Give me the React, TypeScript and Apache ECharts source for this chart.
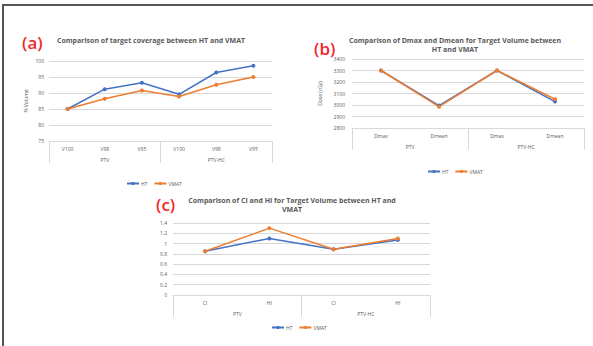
import React, { useEffect, useRef } from "react";
import * as echarts from "echarts";

// Panel (a)
const catsA = ["V100", "V98", "V95", "V100", "V98", "V95"];
const groupsA = ["PTV", "PTV-HC"];
const htA = [85.0, 91.2, 93.2, 89.6, 96.4, 98.5];
const vmatA = [85.0, 88.2, 90.8, 88.9, 92.6, 95.0];
const yTicksA = [75, 80, 85, 90, 95, 100];

// Panel (b)
const catsB = ["Dmax", "Dmean", "Dmax", "Dmean"];
const groupsB = ["PTV", "PTV-HC"];
const htB = [3300, 2995, 3300, 3030];
const vmatB = [3300, 2985, 3300, 3050];
const yTicksB = [2800, 2900, 3000, 3100, 3200, 3300, 3400];

// Panel (c)
const catsC = ["CI", "HI", "CI", "HI"];
const groupsC = ["PTV", "PTV-HC"];
const htC = [0.85, 1.1, 0.89, 1.07];
const vmatC = [0.85, 1.3, 0.89, 1.1];
const yTicksC = [0, 0.2, 0.4, 0.6, 0.8, 1, 1.2, 1.4];

const BLUE = "#4472C4";
const ORANGE = "#ED7D31";
const GRID = "#D9D9D9";
const TXT = "#595959";
const FONT = "Open Sans";

export default function App() {
  const ref = useRef<HTMLDivElement>(null);
  useEffect(() => {
    const chart = echarts.init(ref.current!, null, { renderer: "svg" });

    const grids = [
      { left: 49, top: 61, width: 223, height: 80 },
      { left: 352, top: 59, width: 232, height: 69 },
      { left: 173, top: 223, width: 257, height: 72 },
    ];
    const cats = [catsA, catsB, catsC];
    const groups = [groupsA, groupsB, groupsC];
    const ticks = [yTicksA, yTicksB, yTicksC];
    const yNames = ["% Volume", "Dose (cGy)", ""];
    const yNameGaps = [21, 30, 20];
    const yLabelMargins = [5, 7, 6];
    const htData = [htA, htB, htC];
    const vmData = [vmatA, vmatB, vmatC];

    const xAxis: any[] = [];
    const yAxis: any[] = [];
    const series: any[] = [];
    for (let i = 0; i < 3; i++) {
      xAxis.push({
        type: "category",
        gridIndex: i,
        data: cats[i],
        position: "bottom",
        boundaryGap: true,
        axisLine: { show: true, lineStyle: { color: GRID, width: 1 } },
        axisTick: { show: false },
        axisLabel: { fontSize: 5, color: TXT, fontFamily: FONT, margin: 5, interval: 0 },
      });
      xAxis.push({
        type: "category",
        gridIndex: i,
        data: groups[i],
        position: "bottom",
        boundaryGap: true,
        axisLine: { show: false },
        axisTick: { show: true, length: 22, interval: 0, lineStyle: { color: GRID, width: 1 } },
        axisLabel: { fontSize: 5, color: TXT, fontFamily: FONT, margin: 16, interval: 0 },
      });
      const t = ticks[i];
      yAxis.push({
        type: "value",
        gridIndex: i,
        min: t[0],
        max: t[t.length - 1],
        interval: t[1] - t[0],
        name: yNames[i],
        nameLocation: "middle",
        nameGap: yNameGaps[i],
        nameTextStyle: { fontSize: 5, color: TXT, fontFamily: FONT },
        axisLine: { show: false },
        axisTick: { show: false },
        splitLine: { show: true, lineStyle: { color: GRID, width: 1 } },
        axisLabel: {
          fontSize: 5,
          color: TXT,
          fontFamily: FONT,
          margin: yLabelMargins[i],
          formatter: (v: number) => String(Math.round(v * 100) / 100),
        },
      });
      series.push({
        name: "HT",
        type: "line",
        xAxisIndex: 2 * i,
        yAxisIndex: i,
        data: htData[i],
        symbol: "circle",
        symbolSize: 4,
        lineStyle: { color: BLUE, width: 1.5 },
        itemStyle: { color: BLUE },
      });
      series.push({
        name: "VMAT",
        type: "line",
        xAxisIndex: 2 * i,
        yAxisIndex: i,
        data: vmData[i],
        symbol: "circle",
        symbolSize: 4,
        lineStyle: { color: ORANGE, width: 1.5 },
        itemStyle: { color: ORANGE },
      });
    }

    const legendBase = {
      data: ["HT", "VMAT"],
      itemWidth: 12,
      itemHeight: 4,
      itemGap: 6,
      selectedMode: false,
      textStyle: { fontSize: 5, color: TXT, fontFamily: FONT, padding: [0, 0, 0, -3] },
    };

    const titleStyle = (text: string) => ({
      text,
      fill: TXT,
      font: `bold 7px "${FONT}"`,
      align: "center",
      verticalAlign: "middle",
      lineHeight: 9,
    });
    const redStyle = (text: string) => ({
      text,
      fill: "#F02828",
      font: `600 17px "${FONT}"`,
      align: "left",
      verticalAlign: "middle",
    });

    chart.setOption({
      animation: false,
      backgroundColor: "#fff",
      grid: grids,
      xAxis,
      yAxis,
      series,
      legend: [
        { ...legendBase, left: 121, top: 176 },
        { ...legendBase, left: 422, top: 164 },
        { ...legendBase, left: 266, top: 320 },
      ],
      graphic: [
        { type: "line", shape: { x1: 3, y1: 5, x2: 593, y2: 5 }, style: { stroke: "#555", lineWidth: 2 } },
        { type: "line", shape: { x1: 3, y1: 4, x2: 3, y2: 346 }, style: { stroke: "#555", lineWidth: 2 } },
        { type: "text", x: 151, y: 40, style: titleStyle("Comparison of target coverage between HT and VMAT") },
        { type: "text", x: 455, y: 45, style: titleStyle("Comparison of Dmax and Dmean for Target Volume between\nHT and VMAT") },
        { type: "text", x: 292, y: 204.5, style: titleStyle("Comparison of CI and HI for Target Volume between HT and\nVMAT") },
        { type: "text", x: 22, y: 42, style: redStyle("(a)") },
        { type: "text", x: 314, y: 48, style: redStyle("(b)") },
        { type: "text", x: 156, y: 204, style: redStyle("(c)") },
      ],
    });
    return () => chart.dispose();
  }, []);
  return (
    <div
      ref={ref}
      style={{ position: "absolute", left: 0, top: 0, width: 593, height: 346, background: "#fff" }}
    />
  );
}
